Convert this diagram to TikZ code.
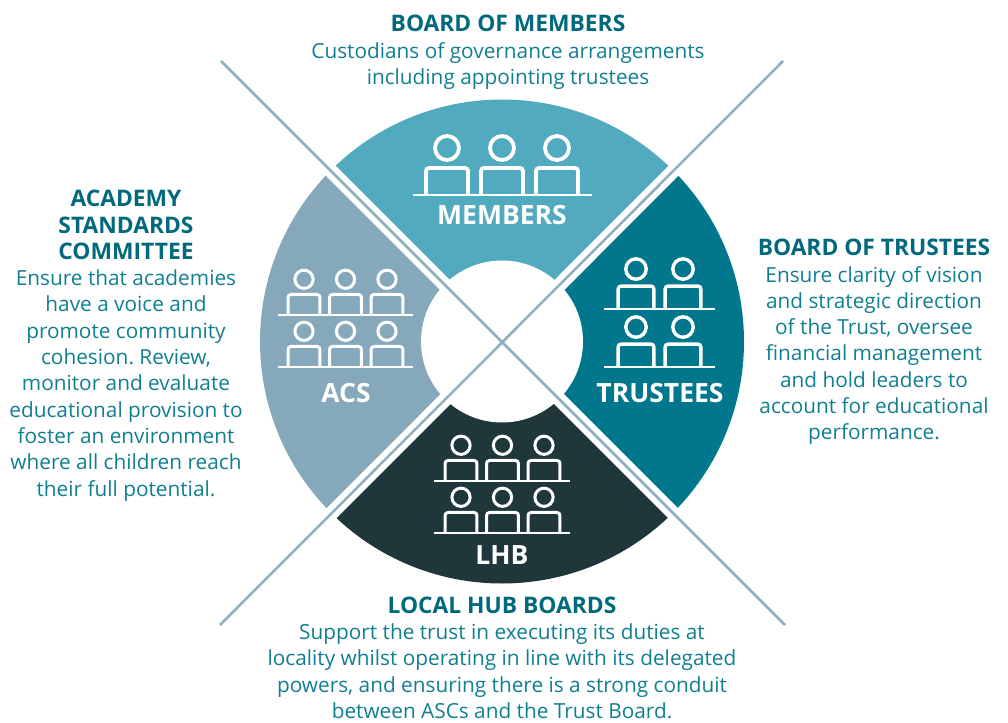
\documentclass[tikz,border=0pt]{standalone}
\usepackage{fontspec}
\setmainfont{Open Sans}
\frenchspacing
\definecolor{membersblue}{HTML}{52AABE}
\definecolor{acsgrey}{HTML}{85A8BB}
\definecolor{trusteeteal}{HTML}{00778C}
\definecolor{lhbdark}{HTML}{1F363B}
\definecolor{crossline}{HTML}{8FB0BF}
\definecolor{bodyteal}{HTML}{0F7F90}
\definecolor{headteal}{HTML}{00697C}
\tikzset{
	seat/.pic = {
		\draw (0,-47) circle (12);
		\draw[rounded corners=3pt] (-21,0) |- (21,-27) -- (21,0);
	},
	icon/.style = {draw=white, line width=#1},
	ring/.style = {fill=#1},
	boardtext/.style = {text=bodyteal, align=center, inner sep=0pt, font=\fontsize{20.8}{26.3}\selectfont},
	ringlabel/.style = {text=white, inner sep=0pt, font=\fontsize{26.5}{27}\selectfont\bfseries},
}
\newcommand{\boardhead}[1]{{\color{headteal}\fontsize{22.8}{26.3}\selectfont\bfseries #1}}
\begin{document}
\begin{tikzpicture}[x=1pt, y=-1pt]
	\useasboundingbox (0,0) rectangle (1008,722);

	% ring
	\coordinate (hub) at (502,341.5);
	\fill[ring=membersblue] (hub) -- ++(-135:242) arc (-135:-45:242) -- cycle;
	\fill[ring=trusteeteal] (hub) -- ++(-45:242) arc (-45:45:242) -- cycle;
	\fill[ring=lhbdark] (hub) -- ++(45:242) arc (45:135:242) -- cycle;
	\fill[ring=acsgrey] (hub) -- ++(135:242) arc (135:225:242) -- cycle;
	\fill[white] (hub) circle (81);

	% cross
	\coordinate (nw) at (221,61);
	\coordinate (se) at (785,625);
	\coordinate (ne) at (783,61);
	\coordinate (sw) at (220,625);
	\draw[white, line width=14pt] (nw) -- (se);
	\draw[white, line width=14pt] (ne) -- (sw);
	\draw[crossline, line width=2.5pt] (nw) -- (se);
	\draw[crossline, line width=2.5pt] (ne) -- (sw);

	% members
	\foreach \x in {447,502,557}
		\pic[icon=3.8pt] at (\x,195) {seat};
	\draw[icon=1.8pt] (413,195) -- (592,195);

	% trustees
	\foreach \y in {309,367} {
		\foreach \x in {636,683}
			\pic[icon=3.4pt, scale=.85] at (\x,\y) {seat};
		\draw[icon=1.6pt] (604,\y) -- (715,\y);
	}

	% acs and lhb
	\foreach \y in {315,367} {
		\foreach \x in {304,345.5,387}
			\pic[icon=3pt, scale=.76] at (\x,\y) {seat};
		\draw[icon=1.4pt] (278,\y) -- (413,\y);
	}
	\foreach \y in {481,533} {
		\foreach \x in {461,502.5,544}
			\pic[icon=3pt, scale=.76] at (\x,\y) {seat};
		\draw[icon=1.4pt] (434,\y) -- (570,\y);
	}

	\node (memberslabel) [ringlabel] at (502,215) {MEMBERS};
	\node (trusteeslabel) [ringlabel] at (660,393) {TRUSTEES};
	\node (acslabel) [ringlabel] at (346,393) {ACS};
	\node (lhblabel) [ringlabel] at (502,555) {LHB};

	\node (boardmembers) [boardtext, anchor=north] at (508,15) {\boardhead{BOARD OF MEMBERS}\\
		Custodians of governance arrangements\\
		including appointing trustees};
	\node (boardtrustees) [boardtext, anchor=north] at (874,239) {\boardhead{BOARD OF TRUSTEES}\\
		Ensure clarity of vision\\
		and strategic direction\\
		of the Trust, oversee\\
		financial management\\
		and hold leaders to\\
		account for educational\\
		performance.};
	\node (academy) [boardtext, anchor=north] at (126,190) {\boardhead{ACADEMY}\\
		\boardhead{STANDARDS}\\
		\boardhead{COMMITTEE}\\
		Ensure that academies\\
		have a voice and\\
		promote community\\
		cohesion. Review,\\
		monitor and evaluate\\
		educational provision to\\
		foster an environment\\
		where all children reach\\
		their full potential.};
	\node (localhub) [boardtext, anchor=north] at (502,596.5) {\boardhead{LOCAL HUB BOARDS}\\
		Support the trust in executing its duties at\\
		locality whilst operating in line with its delegated\\
		powers, and ensuring there is a strong conduit\\
		between ASCs and the Trust Board.};
\end{tikzpicture}
\end{document}
